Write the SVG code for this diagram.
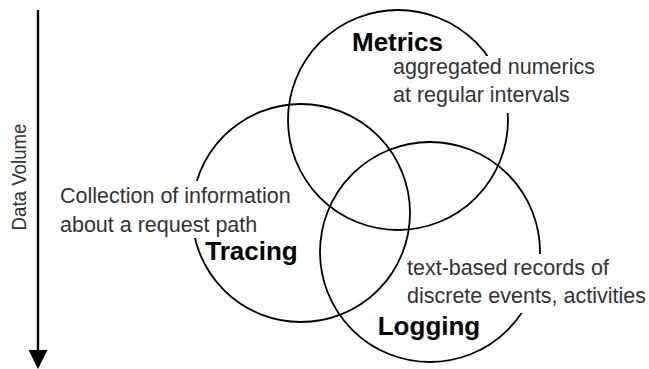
<svg xmlns="http://www.w3.org/2000/svg" width="649" height="369" viewBox="0 0 649 369">
<defs>
<style>
.ring{fill:none;stroke:#000;stroke-width:1.8}
.mask{fill:#fff;stroke:none}
.desc{font-family:"Liberation Sans",Arial,sans-serif;font-size:21.5px;fill:#333}
.title{font-family:"Liberation Sans",Arial,sans-serif;font-size:26px;font-weight:bold;fill:#000;text-anchor:middle}
.axis{font-family:"Liberation Sans",Arial,sans-serif;font-size:20px;fill:#333;text-anchor:middle}
</style>
<marker id="head" markerWidth="23" markerHeight="19" refX="0" refY="9.5" orient="auto" markerUnits="userSpaceOnUse">
<path d="M0,0 L19,9.5 L0,19 Z" fill="#000"/>
</marker>
</defs>
<rect width="649" height="369" fill="#fff"/>
<g id="connectors">
<line x1="38" y1="10" x2="38" y2="350" stroke="#000" stroke-width="2.4" marker-end="url(#head)"/>
<text class="axis" transform="translate(26,177) rotate(-90)" textLength="107" lengthAdjust="spacingAndGlyphs">Data Volume</text>
</g>
<g id="metrics">
<circle class="ring" cx="398" cy="120" r="110"/>
<rect class="mask" x="389" y="56" width="208" height="57"/>
<text class="title" x="397.5" y="51">Metrics</text>
<text class="desc" x="393" y="74">aggregated numerics</text>
<text class="desc" x="393" y="102">at regular intervals</text>
</g>
<g id="tracing">
<circle class="ring" cx="301" cy="213" r="109"/>
<rect class="mask" x="56" y="181" width="246" height="57"/>
<text class="desc" x="60" y="203">Collection of information</text>
<text class="desc" x="60" y="232">about a request path</text>
<text class="title" x="251.5" y="260">Tracing</text>
</g>
<g id="logging">
<circle class="ring" cx="430" cy="252" r="110"/>
<rect class="mask" x="403" y="254" width="246" height="59"/>
<text class="desc" x="407" y="275">text-based records of</text>
<text class="desc" x="407" y="303">discrete events, activities</text>
<text class="title" x="429" y="335">Logging</text>
</g>
</svg>
